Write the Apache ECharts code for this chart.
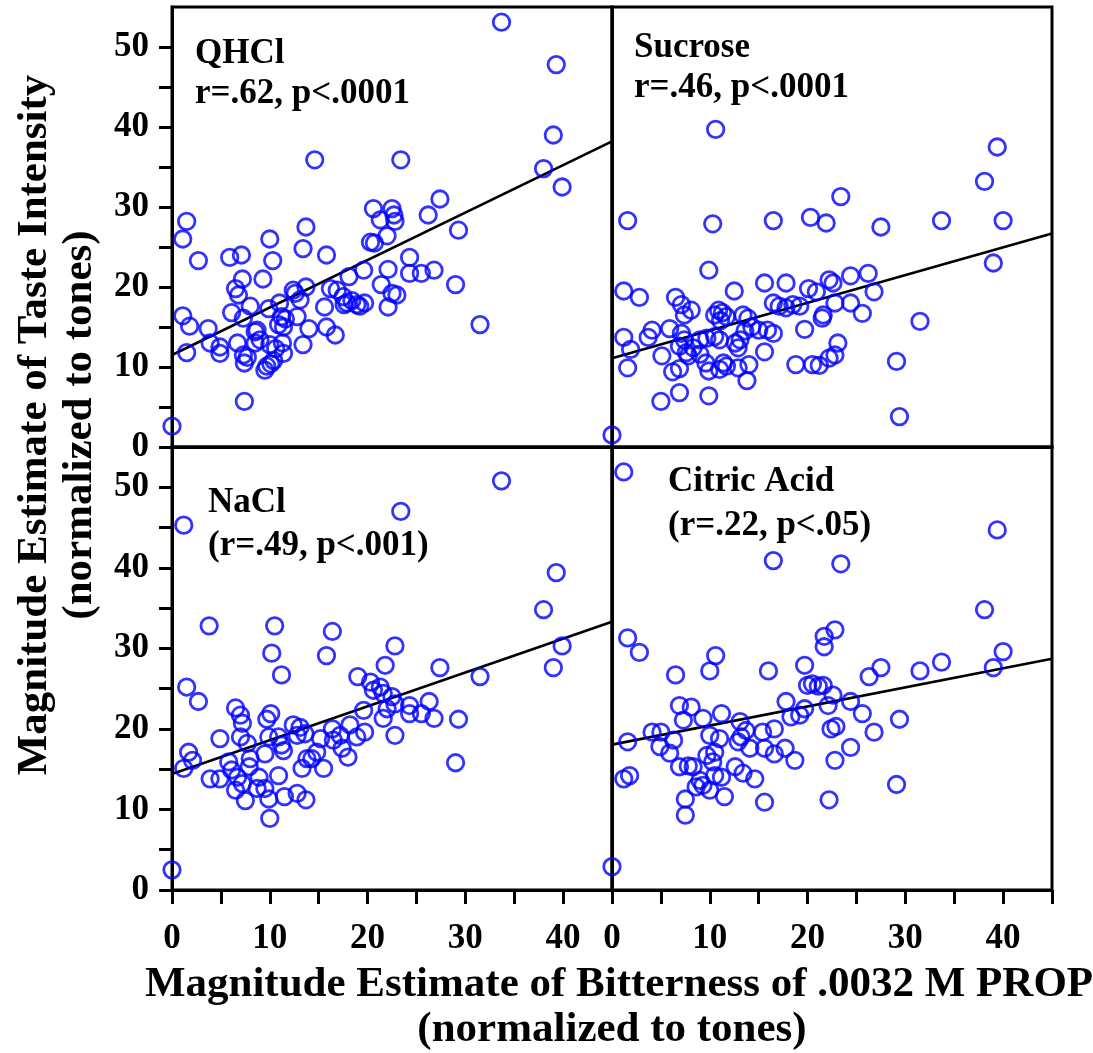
<!DOCTYPE html>
<html>
<head>
<meta charset="utf-8">
<script src="https://cdn.jsdelivr.net/npm/echarts@6/dist/echarts.min.js"></script>
<style>
html,body{margin:0;padding:0;background:#fff;}
#chart{width:1093px;height:1053px;}
</style>
</head>
<body>
<div id="chart"></div>
<script>
// ---- Data ----
const qhclPoints = [
 [14.6,35.9],[1.5,28.2],[1.1,26.0],[2.7,23.3],[5.9,23.7],[7.1,24.0],[10.0,26.0],[13.7,27.5],[13.4,24.8],[15.8,24.0],
 [10.3,23.3],[7.2,21.0],[9.3,21.0],[6.5,19.8],[6.8,19.0],[20.6,29.8],[21.3,28.4],[20.3,25.6],[20.7,25.5],[19.6,22.1],
 [21.4,20.3],[18.1,21.3],[16.2,19.8],[16.9,19.6],[17.5,18.8],[17.9,18.0],[18.4,18.3],[18.9,17.8],[19.7,18.0],[19.2,17.6],
 [17.6,17.8],[15.6,17.5],[15.8,15.0],[16.7,14.0],[14.0,14.8],[13.4,12.8],[12.6,19.2],[13.7,20.0],[13.1,18.4],[12.8,16.3],
 [12.4,19.6],[11.0,18.0],[11.2,16.3],[11.6,16.0],[10.9,15.3],[11.4,15.0],[9.9,17.3],[8.0,17.6],[6.1,16.8],[7.3,16.1],
 [1.1,16.4],[1.8,15.1],[3.7,14.8],[3.9,13.0],[4.9,12.5],[4.9,11.7],[1.5,11.8],[6.7,13.0],[7.3,11.5],[7.4,10.5],
 [7.7,11.2],[8.5,14.4],[8.7,14.6],[8.5,13.0],[9.5,9.6],[9.7,10.1],[10.1,10.4],[10.4,10.8],[10.0,12.8],[10.6,12.3],
 [11.4,11.7],[11.3,13.0],[9.0,13.4],[7.4,5.7],[0,2.6],
 [33.7,53.1],[39.3,47.8],[39.0,39.0],[38.0,34.8],[39.9,32.5],[23.4,35.9],[27.4,31.0],[26.2,29.0],[29.3,27.1],[22.5,29.8],
 [22.7,29.0],[22.8,28.2],[22.0,26.4],[24.3,23.7],[22.1,22.2],[24.3,21.7],[25.5,21.7],[26.8,22.1],[29.0,20.3],[22.5,19.2],
 [23.0,19.0],[22.1,17.5],[31.5,15.3]
];
const sucrosePoints = [
 [10.6,39.7],[1.6,28.3],[10.3,27.9],[16.5,28.3],[20.3,28.7],[9.9,22.1],[1.2,19.5],[2.8,18.7],[12.5,19.5],[15.6,20.5],
 [17.8,20.5],[6.5,18.7],[7.1,17.8],[8.1,17.1],[7.4,16.5],[20.1,19.8],[20.9,19.4],[16.5,18.0],[17.1,17.6],[17.8,17.4],
 [18.5,17.8],[19.2,17.6],[10.5,16.5],[10.9,17.1],[11.3,16.8],[11.1,15.8],[11.7,16.3],[13.4,16.5],[13.9,16.1],[14.3,15.0],
 [13.6,14.5],[5.9,14.8],[4.1,14.6],[3.7,13.7],[1.2,13.7],[1.9,12.2],[1.6,9.9],[5.1,11.4],[7.1,14.2],[7.4,13.4],
 [6.9,12.6],[7.6,11.8],[7.8,11.4],[8.3,12.4],[9.0,11.6],[6.2,9.4],[6.9,9.8],[5.0,5.7],[6.9,6.8],[9.9,6.4],
 [9.6,10.5],[9.9,9.5],[11.0,9.7],[11.4,10.5],[11.7,10.1],[12.9,9.9],[13.8,8.3],[14.0,10.3],[9.0,13.4],[9.7,13.6],
 [10.5,13.8],[11.0,13.4],[12.6,13.0],[13.1,13.4],[12.9,12.4],[15.0,14.6],[15.6,11.9],[15.9,14.6],[16.5,14.2],[18.8,10.3],
 [20.5,10.3],[19.7,14.7],[21.5,16.1],[0,1.5],
 [39.4,37.5],[38.1,33.2],[40.0,28.3],[33.7,28.3],[23.4,31.3],[21.9,28.0],[27.5,27.5],[39.0,23.0],[22.2,20.9],[22.6,20.5],
 [24.4,21.4],[26.2,21.7],[26.8,19.4],[22.8,18.0],[24.4,18.0],[25.6,16.7],[21.6,16.5],[31.5,15.7],[23.1,13.0],[22.8,11.5],
 [22.2,11.1],[21.2,10.2],[29.1,10.7],[29.4,3.8]
];
const naclPoints = [
 [1.2,45.3],[3.8,32.8],[10.5,32.8],[10.2,29.4],[11.2,26.7],[16.4,32.1],[15.8,29.1],[1.5,25.2],[2.7,23.4],[19.0,26.5],
 [20.3,25.8],[20.6,24.8],[21.3,25.2],[6.5,22.6],[7.0,21.7],[7.2,20.7],[7.0,19.0],[7.7,18.2],[8.0,16.3],[7.9,15.3],
 [4.9,18.8],[1.7,17.1],[2.1,16.1],[1.2,15.1],[3.9,13.8],[4.9,13.8],[5.8,15.9],[6.1,14.9],[6.7,14.0],[6.5,12.4],
 [7.5,11.1],[7.2,13.2],[10.1,21.9],[9.7,21.2],[9.9,19.0],[9.5,16.9],[10.9,19.0],[11.2,18.0],[11.4,17.3],[8.9,14.0],
 [9.9,11.3],[10.9,14.2],[9.5,12.6],[8.7,12.6],[10.0,8.9],[11.5,11.6],[12.8,12.0],[13.7,11.2],[13.3,15.1],[13.8,16.3],
 [14.3,16.3],[14.8,17.1],[12.4,20.5],[13.1,20.2],[12.8,19.2],[13.6,19.4],[15.5,15.1],[15.2,18.8],[16.5,18.6],[17.4,17.6],
 [18.0,16.5],[18.2,20.5],[18.9,19.0],[19.7,19.6],[17.2,19.2],[16.4,20.0],[19.6,22.3],[0,2.5],
 [33.7,50.8],[23.4,47.0],[39.3,39.4],[38.0,34.8],[39.9,30.3],[39.0,27.6],[31.5,26.5],[27.4,27.6],[22.8,30.3],[21.8,27.9],
 [21.6,24.4],[22.5,24.0],[22.8,23.1],[22.0,22.5],[21.6,21.3],[24.3,22.9],[24.3,21.9],[25.5,21.9],[26.3,23.4],[26.8,21.3],
 [22.8,19.2],[29.3,21.2],[29.0,15.8]
];
const citricPoints = [
 [1.2,51.9],[16.5,40.9],[1.6,31.3],[2.8,29.5],[6.5,26.7],[10.6,29.1],[10.0,27.2],[16.0,27.2],[19.7,27.9],[20.0,25.4],
 [20.5,25.6],[21.1,25.3],[17.8,23.4],[18.3,21.5],[19.2,21.7],[19.7,22.5],[1.6,18.4],[1.2,13.8],[1.8,14.2],[4.1,19.6],
 [5.0,19.6],[4.9,17.8],[5.9,17.0],[6.9,22.9],[8.1,22.7],[7.3,21.1],[6.3,18.6],[9.3,21.3],[11.2,21.9],[13.1,20.9],
 [13.7,19.8],[10.0,19.2],[11.0,18.8],[13.2,19.0],[14.1,17.6],[12.9,18.4],[15.4,19.6],[16.6,20.0],[15.6,17.6],[16.6,16.9],
 [17.7,17.6],[18.7,16.1],[6.9,15.3],[7.8,15.4],[8.3,15.3],[9.0,13.6],[10.0,12.4],[9.3,13.0],[10.5,14.2],[11.5,11.6],
 [12.6,15.3],[13.4,14.5],[14.6,13.8],[15.6,10.9],[7.5,11.3],[7.5,9.3],[9.7,16.7],[10.5,17.1],[10.3,15.9],[11.2,14.0],
 [8.6,12.8],[0,2.9],
 [39.4,44.7],[23.4,40.5],[38.1,34.8],[40.0,29.6],[39.0,27.6],[33.7,28.3],[31.5,27.2],[27.5,27.6],[26.3,26.5],[22.8,32.3],
 [21.7,31.5],[21.7,30.2],[21.6,25.4],[22.6,24.2],[22.1,22.9],[24.4,23.4],[25.6,21.9],[26.8,19.6],[29.4,21.2],[22.9,20.3],
 [22.4,20.0],[24.4,17.7],[22.8,16.1],[22.2,11.2],[29.1,13.1]
];
// regression line end points [x, y] at x = 0 and x = 45
const qhclFit = [[0,11.5],[45,38.2]];
const sucroseFit = [[0,11.1],[45,26.7]];
const naclFit = [[0,14.4],[45,33.3]];
const citricFit = [[0,18.05],[45,28.7]];

const panelNames = ['QHCl','Sucrose','NaCl','Citric Acid'];
const panelStats = ['r=.62, p<.0001','r=.46, p<.0001','(r=.49, p<.001)','(r=.22, p<.05)'];
const yTickLabels = [0,10,20,30,40,50];
const yTicks = [0,5,10,15,20,25,30,35,40,45,50];
const xTickLabels = [0,10,20,30,40];
const xTicks = [0,5,10,15,20,25,30,35,40,45];
const xTitle = ['Magnitude Estimate of Bitterness of .0032 M PROP','(normalized to tones)'];
const yTitle = ['Magnitude Estimate of Taste Intensity','(normalized to tones)'];

// ---- Chart ----
const FONT = '"Liberation Serif","Times New Roman",serif';
const chart = echarts.init(document.getElementById('chart'), null, {renderer:'canvas'});

const grids = [
  {left:172, top:7, width:440, height:440},
  {left:612, top:7, width:440, height:440},
  {left:172, top:447, width:440, height:443},
  {left:612, top:447, width:440, height:443}
].map(g => Object.assign({show:true, borderColor:'#000', borderWidth:3, backgroundColor:'transparent', containLabel:false}, g));

const lineStyle = {color:'#000', width:3};
const labelStyle = {color:'#000', fontFamily:FONT, fontWeight:'bold', fontSize:35};

const xAxes = [0,1,2,3].map(i => {
  const bottom = i >= 2;
  return {
    type:'value', gridIndex:i, min:0, max:45, interval:5,
    axisLine:{show:true, onZero:false, lineStyle},
    axisTick:{show:bottom, inside:false, length:14, lineStyle, customValues:xTicks},
    axisLabel:{show:bottom, margin:31, customValues:xTickLabels, ...labelStyle},
    splitLine:{show:false}
  };
});
const yAxes = [0,1,2,3].map(i => {
  const left = (i % 2) === 0;
  return {
    type:'value', gridIndex:i, min:0, max:55, interval:5,
    axisLine:{show:true, onZero:false, lineStyle},
    axisTick:{show:left, inside:false, length:13, lineStyle, customValues:(i===2? yTicks.concat([55]) : yTicks)},
    axisLabel:{show:left, margin:23, customValues:yTickLabels, ...labelStyle},
    splitLine:{show:false}
  };
});

const pointSets = [qhclPoints, sucrosePoints, naclPoints, citricPoints];
const fits = [qhclFit, sucroseFit, naclFit, citricFit];
const series = [];
for (let i=0;i<4;i++){
  series.push({
    type:'line', xAxisIndex:i, yAxisIndex:i, data:fits[i], symbol:'none',
    lineStyle:{color:'#000', width:2.6}, silent:true, z:2
  });
  series.push({
    type:'scatter', xAxisIndex:i, yAxisIndex:i, data:pointSets[i], clip:false,
    symbol:'circle', symbolSize:16.5,
    itemStyle:{color:'rgba(0,0,0,0)', borderColor:'#0000ff', borderWidth:2.8},
    z:3
  });
}

const txt = (x,y,text,size,extra) => Object.assign({
  type:'text', x, y, z:10,
  style:{text, fill:'#000', font:`bold ${size}px ${FONT}`, textAlign:'left', textVerticalAlign:'middle'}
}, extra||{});

const labelPos = [[195,54,94],[634,48,88],[208,503,546],[668,482,526]];
const graphics = [];
for (let i=0;i<4;i++){
  graphics.push(txt(labelPos[i][0], labelPos[i][1], panelNames[i], 35));
  graphics.push(txt(labelPos[i][0], labelPos[i][2], panelStats[i], 35));
}
// x title
graphics.push({type:'text', x:619, y:985, z:10, style:{text:xTitle[0], fill:'#000', font:`bold 43px ${FONT}`, textAlign:'center', textVerticalAlign:'middle'}});
graphics.push({type:'text', x:612, y:1030, z:10, style:{text:xTitle[1], fill:'#000', font:`bold 43px ${FONT}`, textAlign:'center', textVerticalAlign:'middle'}});
// y title (rotated)
graphics.push({type:'text', x:35, y:425, rotation:Math.PI/2, z:10, style:{text:yTitle[0], fill:'#000', font:`bold 43px ${FONT}`, textAlign:'center', textVerticalAlign:'middle'}});
graphics.push({type:'text', x:80, y:425, rotation:Math.PI/2, z:10, style:{text:yTitle[1], fill:'#000', font:`bold 43px ${FONT}`, textAlign:'center', textVerticalAlign:'middle'}});

chart.setOption({
  animation:false,
  backgroundColor:'#fff',
  grid:grids,
  xAxis:xAxes,
  yAxis:yAxes,
  series,
  graphic:graphics
});
</script>
</body>
</html>
